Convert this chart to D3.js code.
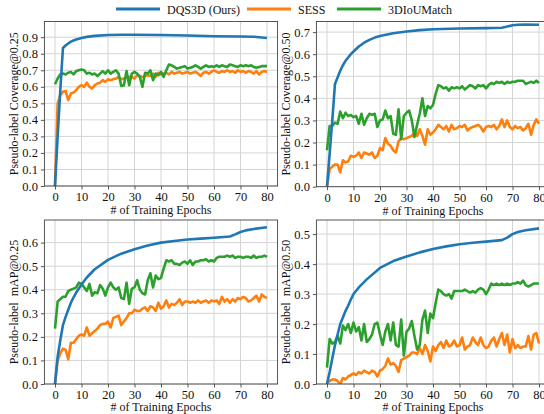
<!DOCTYPE html>
<html>
<head>
<meta charset="utf-8">
<script src="https://cdn.jsdelivr.net/npm/d3@7"></script>
<style>
  body { margin: 0; background: #fff; }
  text { font-family: "Liberation Serif", "DejaVu Serif", serif; fill: #111; }
</style>
</head>
<body>
<script>
// Epochs for the noisy baselines (one sample per epoch)
const epochs = d3.range(0, 81);

// ---- Pseudo-label Coverage@0.25 ----
const cov25DqsEpochs = [0, 1, 2, 3, 4, 5, 6, 7, 8, 10, 12, 15, 20, 25, 30, 40, 50, 60, 70, 75, 80];
const cov25Dqs = [0, 0.3, 0.58, 0.835, 0.85, 0.862, 0.873, 0.88, 0.886, 0.895, 0.902, 0.908, 0.913, 0.915, 0.915, 0.913, 0.91, 0.906, 0.904, 0.903, 0.895];
const cov25Sess = [0.0, 0.5, 0.55, 0.57, 0.575, 0.52, 0.56, 0.565, 0.58, 0.6, 0.61, 0.6, 0.625, 0.6, 0.59, 0.61, 0.62, 0.625, 0.64, 0.63,
  0.645, 0.64, 0.645, 0.65, 0.66, 0.645, 0.65, 0.66, 0.66, 0.66, 0.65, 0.67, 0.665, 0.66, 0.665, 0.67, 0.665, 0.68, 0.66, 0.685,
  0.675, 0.68, 0.685, 0.675, 0.69, 0.68, 0.685, 0.69, 0.68, 0.685, 0.69, 0.68, 0.685, 0.69, 0.68, 0.665, 0.685, 0.69, 0.68, 0.69,
  0.7, 0.69, 0.685, 0.695, 0.69, 0.7, 0.69, 0.695, 0.685, 0.7, 0.69, 0.695, 0.685, 0.695, 0.69, 0.68, 0.695, 0.675, 0.69, 0.695, 0.69];
const cov25Iou = [0.615, 0.65, 0.675, 0.68, 0.675, 0.685, 0.69, 0.675, 0.695, 0.7, 0.705, 0.7, 0.68, 0.685, 0.675, 0.68, 0.665, 0.68, 0.695, 0.68,
  0.7, 0.68, 0.69, 0.7, 0.68, 0.605, 0.61, 0.695, 0.61, 0.68, 0.69, 0.68, 0.66, 0.6, 0.685, 0.68, 0.7, 0.64, 0.68, 0.67,
  0.69, 0.66, 0.7, 0.735, 0.73, 0.72, 0.71, 0.715, 0.72, 0.725, 0.71, 0.715, 0.72, 0.73, 0.72, 0.71, 0.72, 0.73, 0.72, 0.725,
  0.72, 0.73, 0.72, 0.73, 0.725, 0.72, 0.735, 0.73, 0.725, 0.72, 0.73, 0.725, 0.73, 0.725, 0.73, 0.72, 0.715, 0.72, 0.725, 0.725, 0.725];

// ---- Pseudo-label Coverage@0.50 ----
const cov50DqsEpochs = [0, 1, 2, 3, 4, 5, 6, 7, 8, 9, 10, 12, 14, 16, 18, 20, 25, 30, 35, 40, 50, 60, 66, 68, 70, 72, 75, 80];
const cov50Dqs = [0, 0.15, 0.3, 0.465, 0.495, 0.525, 0.55, 0.57, 0.585, 0.6, 0.612, 0.635, 0.652, 0.665, 0.675, 0.682, 0.695, 0.703, 0.709, 0.713, 0.716, 0.718, 0.72, 0.725, 0.731, 0.733, 0.734, 0.733];
const cov50Sess = [0.0, 0.08, 0.09, 0.1, 0.1, 0.065, 0.12, 0.11, 0.115, 0.14, 0.135, 0.14, 0.155, 0.13, 0.155, 0.15, 0.145, 0.155, 0.13, 0.14,
  0.175, 0.165, 0.22, 0.195, 0.185, 0.165, 0.155, 0.205, 0.22, 0.215, 0.22, 0.225, 0.23, 0.245, 0.23, 0.26, 0.23, 0.19, 0.26, 0.235,
  0.245, 0.26, 0.28, 0.27, 0.26, 0.275, 0.25, 0.28, 0.26, 0.265, 0.275, 0.27, 0.28, 0.255, 0.265, 0.27, 0.275, 0.28, 0.27, 0.25,
  0.27, 0.275, 0.27, 0.28, 0.26, 0.275, 0.305, 0.27, 0.3, 0.27, 0.26, 0.275, 0.265, 0.27, 0.255, 0.265, 0.285, 0.235, 0.28, 0.305, 0.285];
const cov50Iou = [0.165, 0.275, 0.275, 0.29, 0.285, 0.34, 0.31, 0.335, 0.32, 0.325, 0.315, 0.32, 0.285, 0.33, 0.28, 0.31, 0.33, 0.325, 0.33, 0.27,
  0.3, 0.305, 0.345, 0.31, 0.32, 0.24, 0.235, 0.35, 0.215, 0.32, 0.335, 0.345, 0.3, 0.225, 0.28, 0.33, 0.4, 0.32, 0.365, 0.355,
  0.37, 0.42, 0.46, 0.455, 0.445, 0.45, 0.435, 0.45, 0.445, 0.45, 0.445, 0.455, 0.44, 0.45, 0.46, 0.455, 0.445, 0.46, 0.455, 0.46,
  0.445, 0.46, 0.47, 0.465, 0.475, 0.47, 0.475, 0.465, 0.475, 0.47, 0.475, 0.475, 0.48, 0.48, 0.48, 0.465, 0.47, 0.475, 0.47, 0.48, 0.47];

// ---- Pseudo-label mAP@0.25 ----
const map25DqsEpochs = [0, 1, 2, 3, 4, 5, 6, 7, 8, 9, 10, 12, 15, 20, 25, 30, 35, 40, 45, 50, 55, 60, 66, 68, 70, 72, 75, 80];
const map25Dqs = [0, 0.116, 0.185, 0.25, 0.285, 0.315, 0.345, 0.368, 0.388, 0.405, 0.422, 0.452, 0.487, 0.527, 0.553, 0.572, 0.588, 0.6, 0.607, 0.613, 0.617, 0.621, 0.626, 0.635, 0.645, 0.652, 0.658, 0.665];
const map25Sess = [0.0, 0.1, 0.13, 0.15, 0.145, 0.105, 0.175, 0.175, 0.19, 0.205, 0.21, 0.205, 0.24, 0.205, 0.215, 0.225, 0.235, 0.25, 0.255, 0.255,
  0.265, 0.24, 0.28, 0.285, 0.29, 0.25, 0.265, 0.28, 0.3, 0.3, 0.315, 0.31, 0.31, 0.32, 0.325, 0.31, 0.33, 0.325, 0.31, 0.345,
  0.32, 0.33, 0.355, 0.325, 0.34, 0.335, 0.345, 0.36, 0.335, 0.35, 0.35, 0.345, 0.35, 0.345, 0.355, 0.345, 0.35, 0.355, 0.345, 0.355,
  0.35, 0.355, 0.34, 0.37, 0.35, 0.36, 0.345, 0.36, 0.35, 0.365, 0.36, 0.37, 0.365, 0.35, 0.355, 0.365, 0.375, 0.35, 0.38, 0.37, 0.365];
const map25Iou = [0.235, 0.35, 0.36, 0.37, 0.37, 0.395, 0.4, 0.405, 0.41, 0.43, 0.425, 0.41, 0.395, 0.425, 0.375, 0.39, 0.385, 0.42, 0.405, 0.375,
  0.41, 0.43, 0.41, 0.4, 0.41, 0.365, 0.36, 0.43, 0.34, 0.405, 0.41, 0.44, 0.4, 0.385, 0.38, 0.44, 0.47, 0.41, 0.46, 0.445,
  0.45, 0.49, 0.525, 0.52, 0.525, 0.51, 0.51, 0.505, 0.515, 0.52, 0.51, 0.525, 0.505, 0.52, 0.52, 0.525, 0.525, 0.53, 0.52, 0.525,
  0.52, 0.535, 0.54, 0.54, 0.54, 0.545, 0.54, 0.545, 0.535, 0.54, 0.54, 0.535, 0.54, 0.54, 0.535, 0.545, 0.535, 0.54, 0.54, 0.545, 0.54];

// ---- Pseudo-label mAP@0.50 ----
const map50DqsEpochs = [0, 1, 2, 3, 4, 5, 6, 7, 8, 9, 10, 12, 15, 20, 25, 30, 35, 40, 45, 50, 55, 60, 66, 68, 70, 72, 75, 80];
const map50Dqs = [0, 0.04, 0.085, 0.129, 0.165, 0.2, 0.222, 0.244, 0.262, 0.282, 0.3, 0.322, 0.349, 0.387, 0.41, 0.425, 0.439, 0.45, 0.459, 0.466, 0.471, 0.475, 0.48, 0.488, 0.5, 0.507, 0.513, 0.519];
const map50Sess = [0.005, 0.01, 0.015, 0.015, 0.01, 0.0, 0.02, 0.015, 0.025, 0.03, 0.035, 0.03, 0.04, 0.035, 0.045, 0.04, 0.035, 0.045, 0.04, 0.025,
  0.045, 0.05, 0.06, 0.085, 0.065, 0.07, 0.06, 0.04, 0.08, 0.085, 0.09, 0.095, 0.105, 0.105, 0.1, 0.12, 0.1, 0.13, 0.11, 0.075,
  0.125, 0.11, 0.13, 0.14, 0.12, 0.145, 0.125, 0.13, 0.145, 0.125, 0.13, 0.155, 0.115, 0.125, 0.13, 0.155, 0.14, 0.13, 0.155, 0.13,
  0.12, 0.125, 0.145, 0.155, 0.125, 0.15, 0.17, 0.13, 0.165, 0.105, 0.15, 0.12, 0.13, 0.12, 0.125, 0.125, 0.16, 0.115, 0.165, 0.17, 0.135];
const map50Iou = [0.055, 0.15, 0.135, 0.14, 0.16, 0.135, 0.195, 0.18, 0.2, 0.17, 0.205, 0.175, 0.19, 0.145, 0.2, 0.14, 0.15, 0.165, 0.2, 0.205,
  0.165, 0.13, 0.175, 0.2, 0.145, 0.205, 0.13, 0.125, 0.215, 0.095, 0.175, 0.185, 0.21, 0.16, 0.115, 0.13, 0.215, 0.245, 0.17, 0.235,
  0.22, 0.27, 0.315, 0.31, 0.3, 0.295, 0.3, 0.285, 0.31, 0.31, 0.31, 0.31, 0.315, 0.31, 0.305, 0.31, 0.305, 0.315, 0.32, 0.315,
  0.3, 0.315, 0.335, 0.33, 0.335, 0.33, 0.335, 0.33, 0.335, 0.33, 0.335, 0.335, 0.34, 0.335, 0.345, 0.33, 0.325, 0.33, 0.335, 0.335, 0.335];

const xTicks = [0, 10, 20, 30, 40, 50, 60, 70, 80];
const seriesNames = ['DQS3D (Ours)', 'SESS', '3DIoUMatch'];
const colors = ['#1f77b4', '#ff7f0e', '#2ca02c'];

const width = 544;
const height = 414;

const svg = d3.select('body')
  .append('svg')
  .attr('width', width)
  .attr('height', height);

// Panel layout: pixel boxes of each axes, plus x-label baseline offset
const panels = [
  { box: [44.4, 277.6, 21.5, 186], labelDy: 28, ymax: 0.995, yTicks: d3.range(0, 10).map(d => d / 10), label: 'Pseudo-label Coverage@0.25',
    dqsX: cov25DqsEpochs, dqs: cov25Dqs, sess: cov25Sess, iou: cov25Iou },
  { box: [316.4, 549.6, 21.5, 186.7], labelDy: 28, ymax: 0.748, yTicks: d3.range(0, 8).map(d => d / 10), label: 'Pseudo-label Coverage@0.50',
    dqsX: cov50DqsEpochs, dqs: cov50Dqs, sess: cov50Sess, iou: cov50Iou },
  { box: [44.4, 277.6, 220, 384], labelDy: 27, ymax: 0.696, yTicks: d3.range(0, 7).map(d => d / 10), label: 'Pseudo-label  mAP@0.25',
    dqsX: map25DqsEpochs, dqs: map25Dqs, sess: map25Sess, iou: map25Iou },
  { box: [316.4, 549.6, 220, 384], labelDy: 27, ymax: 0.547, yTicks: d3.range(0, 6).map(d => d / 10), label: 'Pseudo-label  mAP@0.50',
    dqsX: map50DqsEpochs, dqs: map50Dqs, sess: map50Sess, iou: map50Iou }
];

panels.forEach((p, i) => {
  const [x0, x1, y0, y1] = p.box;
  const x = d3.scaleLinear().domain([-4, 84]).range([x0, x1]);
  const y = d3.scaleLinear().domain([0, p.ymax]).range([y1, y0]);
  const g = svg.append('g');

  const clipId = 'clip' + i;
  g.append('clipPath').attr('id', clipId)
    .append('rect').attr('x', x0).attr('y', y0).attr('width', x1 - x0).attr('height', y1 - y0);

  // grid
  g.append('g').selectAll('line.vx').data(xTicks).enter().append('line')
    .attr('x1', d => x(d)).attr('x2', d => x(d)).attr('y1', y0).attr('y2', y1)
    .attr('stroke', '#d4d4d4').attr('stroke-width', 1);
  g.append('g').selectAll('line.hy').data(p.yTicks).enter().append('line')
    .attr('x1', x0).attr('x2', x1).attr('y1', d => y(d)).attr('y2', d => y(d))
    .attr('stroke', '#d4d4d4').attr('stroke-width', 1);

  // series
  const lines = g.append('g').attr('clip-path', `url(#${clipId})`);
  const line = d3.line().x(d => x(d[0])).y(d => y(d[1]));
  const sets = [
    d3.zip(p.dqsX, p.dqs),
    d3.zip(epochs, p.sess),
    d3.zip(epochs, p.iou)
  ];
  // draw order: SESS, 3DIoUMatch, then DQS3D on top
  [1, 2, 0].forEach(k => {
    lines.append('path')
      .datum(sets[k])
      .attr('d', line)
      .attr('fill', 'none')
      .attr('stroke', colors[k])
      .attr('stroke-width', 2.6)
      .attr('stroke-linejoin', 'round');
  });

  // spines
  g.append('rect')
    .attr('x', x0).attr('y', y0).attr('width', x1 - x0).attr('height', y1 - y0)
    .attr('fill', 'none').attr('stroke', '#444').attr('stroke-width', 0.9);

  // axes
  const xAxis = g.append('g')
    .attr('transform', `translate(0, ${y1})`)
    .call(d3.axisBottom(x).tickValues(xTicks).tickSize(3.5).tickPadding(3).tickFormat(d3.format('d')));
  const yAxis = g.append('g')
    .attr('transform', `translate(${x0}, 0)`)
    .call(d3.axisLeft(y).tickValues(p.yTicks).tickSize(3.5).tickPadding(3).tickFormat(d3.format('.1f')));
  [xAxis, yAxis].forEach(a => {
    a.select('.domain').remove();
    a.selectAll('line').attr('stroke', '#444').attr('stroke-width', 0.9);
    a.selectAll('text')
      .attr('font-family', '"Liberation Serif", "DejaVu Serif", serif')
      .attr('font-size', 12.5)
      .attr('fill', '#111');
  });

  // axis labels
  g.append('text')
    .text('# of Training Epochs')
    .attr('x', x(40))
    .attr('y', y1 + p.labelDy)
    .attr('text-anchor', 'middle')
    .attr('font-size', 12);

  g.append('text')
    .text(p.label)
    .attr('xml:space', 'preserve')
    .style('white-space', 'pre')
    .attr('transform', `translate(${x0 - 26}, ${(y0 + y1) / 2}) rotate(-90)`)
    .attr('text-anchor', 'middle')
    .attr('font-size', 12);
});

// legend
const legendX = [116, 247, 337];
const legend = svg.append('g');
seriesNames.forEach((name, k) => {
  legend.append('line')
    .attr('x1', legendX[k]).attr('x2', legendX[k] + 44)
    .attr('y1', 9).attr('y2', 9)
    .attr('stroke', colors[k]).attr('stroke-width', 2.8);
  legend.append('text')
    .text(name)
    .attr('x', legendX[k] + 51)
    .attr('y', 13.5)
    .attr('font-size', 12);
});
</script>
</body>
</html>
